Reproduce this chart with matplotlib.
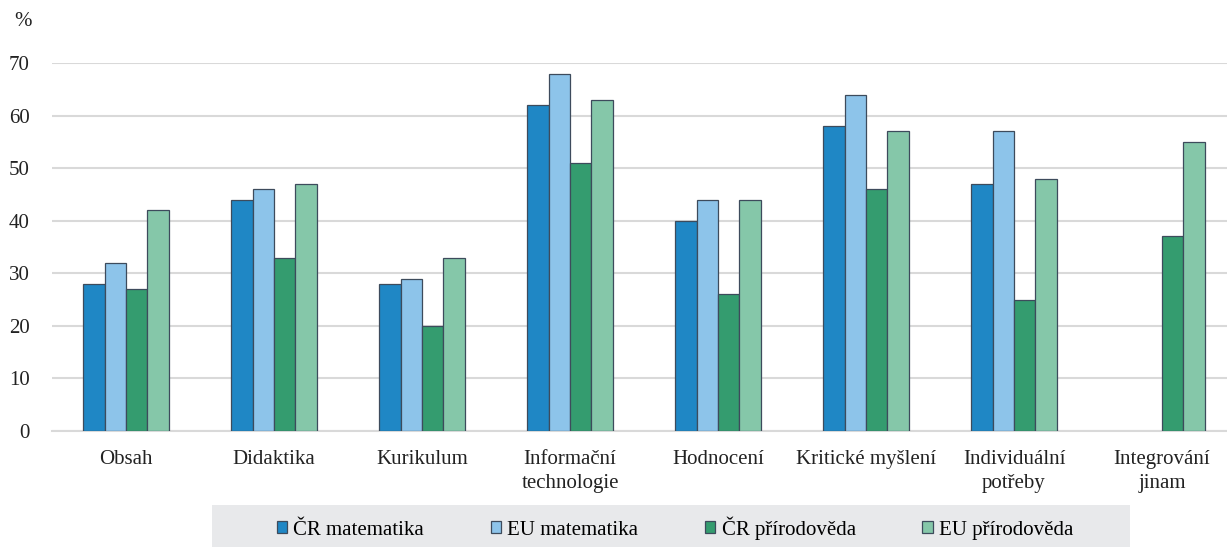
import numpy as np
import matplotlib
matplotlib.use('Agg')
import matplotlib.pyplot as plt
from matplotlib.patches import Rectangle

plt.rcParams['font.family'] = ['Liberation Serif', 'DejaVu Serif']

# data
categories = ['Obsah', 'Didaktika', 'Kurikulum', 'Informační\ntechnologie', 'Hodnocení',
              'Kritické myšlení', 'Individuální\npotřeby', 'Integrování\njinam']
series_names = ['ČR matematika', 'EU matematika', 'ČR přírodověda', 'EU přírodověda']
cr_mat = [28, 44, 28, 62, 40, 58, 47, np.nan]
eu_mat = [32, 46, 29, 68, 44, 64, 57, np.nan]
cr_prir = [27, 33, 20, 51, 26, 46, 25, 37]
eu_prir = [42, 47, 33, 63, 44, 57, 48, 55]
colors = ['#1f87c5', '#8dc4ea', '#349c6f', '#85c7a9']
yticks = [0, 10, 20, 30, 40, 50, 60, 70]

fig = plt.figure(figsize=(12.27, 5.47), dpi=100)
ax = fig.add_axes([52 / 1227, 1 - 431 / 547, 1184 / 1227, 368 / 547])

x = np.arange(len(categories))
w = 0.145
for i, (vals, name, c) in enumerate(zip([cr_mat, eu_mat, cr_prir, eu_prir], series_names, colors)):
    ax.bar(x + (i - 1.5) * w, vals, w, color=c, edgecolor='#3d4b5c', linewidth=0.9,
           label=name, zorder=3)

ax.set_xlim(-0.5, len(categories) - 0.5)
ax.set_ylim(0, 70)
ax.set_yticks(yticks)
ax.yaxis.grid(True, color='#d9d9d9', linewidth=1.5, zorder=0)
ax.set_xticks(x)
ax.set_xticklabels(categories, linespacing=1.3)
ax.tick_params(axis='both', length=0, labelsize=15, colors='#222222')
ax.tick_params(axis='y', pad=16)
ax.tick_params(axis='x', pad=14)
for s in ['top', 'right', 'left']:
    ax.spines[s].set_visible(False)
ax.spines['bottom'].set_color('#d9d9d9')
ax.spines['bottom'].set_linewidth(1.5)

fig.text(14 / 1227, 1 - 22 / 547, '%', fontsize=15, va='center', color='#222222')

# legend band
fig.patches.append(Rectangle((212 / 1227, 0), (1130 - 212) / 1227, 42 / 547,
                             transform=fig.transFigure, facecolor='#e8e9eb',
                             edgecolor='none', zorder=0))
fig.legend(loc='center', bbox_to_anchor=(675 / 1227, 1 - 528 / 547), ncol=4,
           frameon=False, fontsize=15, handlelength=0.5, handleheight=0.5,
           handletextpad=0.3, columnspacing=3.2, borderaxespad=0)

fig.savefig('out.png', dpi=100)
